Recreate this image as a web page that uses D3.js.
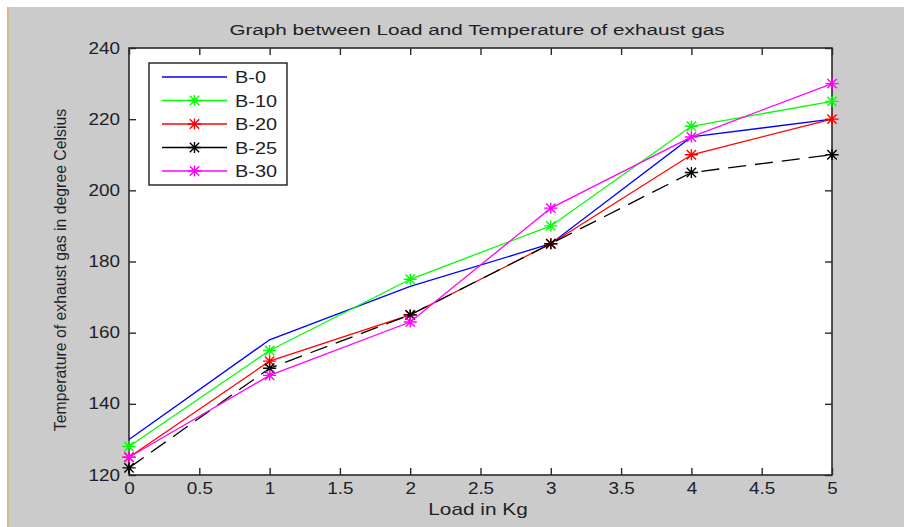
<!DOCTYPE html>
<html>
<head>
<meta charset="utf-8">
<script src="https://cdn.jsdelivr.net/npm/d3@7"></script>
<style>
  html, body { margin: 0; padding: 0; background: #fff; }
  svg { display: block; }
  text { font-family: "Liberation Sans", Arial, sans-serif; fill: #1e1e28; }
</style>
</head>
<body>
<svg width="904" height="527"></svg>
<script>
// values
const loads = [0, 1, 2, 3, 4, 5];
const b0  = [130, 158, 173, 185, 215, 220];
const b10 = [128, 155, 175, 190, 218, 225];
const b20 = [125, 152, 165, 185, 210, 220];
const b25 = [122, 150, 165, 185, 205, 210];
const b30 = [125, 148, 163, 195, 215, 230];
const seriesNames = ["B-0", "B-10", "B-20", "B-25", "B-30"];
const xTicks = [0, 0.5, 1, 1.5, 2, 2.5, 3, 3.5, 4, 4.5, 5];
const yTicks = [120, 140, 160, 180, 200, 220, 240];

const series = [
  { name: seriesNames[0], values: b0,  color: "#0000ff", marker: false, dash: null },
  { name: seriesNames[1], values: b10, color: "#00ff00", marker: true,  dash: null },
  { name: seriesNames[2], values: b20, color: "#ff0000", marker: true,  dash: null },
  { name: seriesNames[3], values: b25, color: "#000000", marker: true,  dash: "18,9" },
  { name: seriesNames[4], values: b30, color: "#ff00ff", marker: true,  dash: null }
];

const svg = d3.select("svg");
const sx = 1.18; // the picture is stretched sideways

// figure background
svg.append("rect").attr("x", 8).attr("y", 7).attr("width", 896).attr("height", 520).attr("fill", "#cbcbcb");
svg.append("line").attr("x1", 8).attr("x2", 8).attr("y1", 7).attr("y2", 527)
  .attr("stroke", "#d8b88c").attr("stroke-width", 2);

const x = d3.scaleLinear().domain([0, 5]).range([129, 832]);
const y = d3.scaleLinear().domain([120, 240]).range([475, 48]);

// plot area
svg.append("rect")
  .attr("x", x(0)).attr("y", y(240))
  .attr("width", x(5) - x(0)).attr("height", y(120) - y(240))
  .attr("fill", "#fff");

function styleAxis(g) {
  g.select(".domain").remove();
  g.selectAll(".tick line").attr("stroke", "#2a2a2a").attr("stroke-width", 1.4);
}

const tick = 7;
const gx = svg.append("g").attr("transform", `translate(0,${y(120)})`)
  .call(d3.axisBottom(x).tickValues(xTicks).tickFormat(d3.format("")).tickSizeInner(-tick).tickSizeOuter(0).tickPadding(8));
const gy = svg.append("g").attr("transform", `translate(${x(0)},0)`)
  .call(d3.axisLeft(y).tickValues(yTicks).tickSizeInner(-tick).tickSizeOuter(0).tickPadding(9));
const gxt = svg.append("g").attr("transform", `translate(0,${y(240)})`)
  .call(d3.axisTop(x).tickValues(xTicks).tickSizeInner(-tick).tickSizeOuter(0).tickFormat(""));
const gyr = svg.append("g").attr("transform", `translate(${x(5)},0)`)
  .call(d3.axisRight(y).tickValues(yTicks).tickSizeInner(-tick).tickSizeOuter(0).tickFormat(""));
[gx, gy, gxt, gyr].forEach(styleAxis);

gx.selectAll("text").attr("font-size", 16).attr("font-family", null).attr("fill", "#1e1e28")
  .attr("transform", `scale(${sx},1)`);
gy.selectAll("text").attr("font-size", 16).attr("font-family", null).attr("fill", "#1e1e28")
  .attr("x", -9 / sx).attr("transform", `scale(${sx},1)`);

// box
svg.append("rect")
  .attr("x", x(0)).attr("y", y(240))
  .attr("width", x(5) - x(0)).attr("height", y(120) - y(240))
  .attr("fill", "none").attr("stroke", "#2a2a2a").attr("stroke-width", 1.6);

// asterisk marker
function star(r) {
  const h = r * 1.2, d = r * 0.85;
  return `M${-h},0H${h}M0,${-r}V${r}M${-d},${-d}L${d},${d}M${-d},${d}L${d},${-d}`;
}

const line = d3.line().x((d, i) => x(loads[i])).y(d => y(d));

series.forEach(s => {
  svg.append("path")
    .attr("d", line(s.values))
    .attr("fill", "none")
    .attr("stroke", s.color)
    .attr("stroke-width", 1.3)
    .attr("stroke-dasharray", s.dash);
  if (s.marker) {
    svg.append("g").selectAll("path")
      .data(s.values)
      .join("path")
      .attr("transform", (d, i) => `translate(${x(loads[i])},${y(d)})`)
      .attr("d", star(5.5))
      .attr("fill", "none")
      .attr("stroke", s.color)
      .attr("stroke-width", 1.4);
  }
});

// legend
const lg = svg.append("g");
lg.append("rect").attr("x", 149).attr("y", 63).attr("width", 138).attr("height", 122)
  .attr("fill", "#fff").attr("stroke", "#1e1e1e").attr("stroke-width", 1.4);
series.forEach((s, i) => {
  const ly = 77 + i * 23.5;
  lg.append("line").attr("x1", 162).attr("x2", 227).attr("y1", ly).attr("y2", ly)
    .attr("stroke", s.color).attr("stroke-width", 1.4);
  if (s.marker) {
    lg.append("path").attr("transform", `translate(194.5,${ly})`).attr("d", star(5.5))
      .attr("fill", "none").attr("stroke", s.color).attr("stroke-width", 1.4);
  }
  lg.append("text")
    .attr("transform", `translate(235,${ly}) scale(1.17,1)`)
    .attr("dy", "0.36em")
    .attr("font-size", 17)
    .text(s.name);
});

// title and axis labels
svg.append("text")
  .attr("transform", "translate(477,35) scale(1.38,1)")
  .attr("text-anchor", "middle").attr("font-size", 15)
  .text("Graph between Load and Temperature of exhaust gas");
svg.append("text")
  .attr("transform", "translate(478,515) scale(1.3,1)")
  .attr("text-anchor", "middle").attr("font-size", 16)
  .text("Load in Kg");
svg.append("text")
  .attr("transform", "translate(66,270) rotate(-90)")
  .attr("text-anchor", "middle").attr("font-size", 15.8)
  .text("Temperature of exhaust gas in degree Celsius");
</script>
</body>
</html>
